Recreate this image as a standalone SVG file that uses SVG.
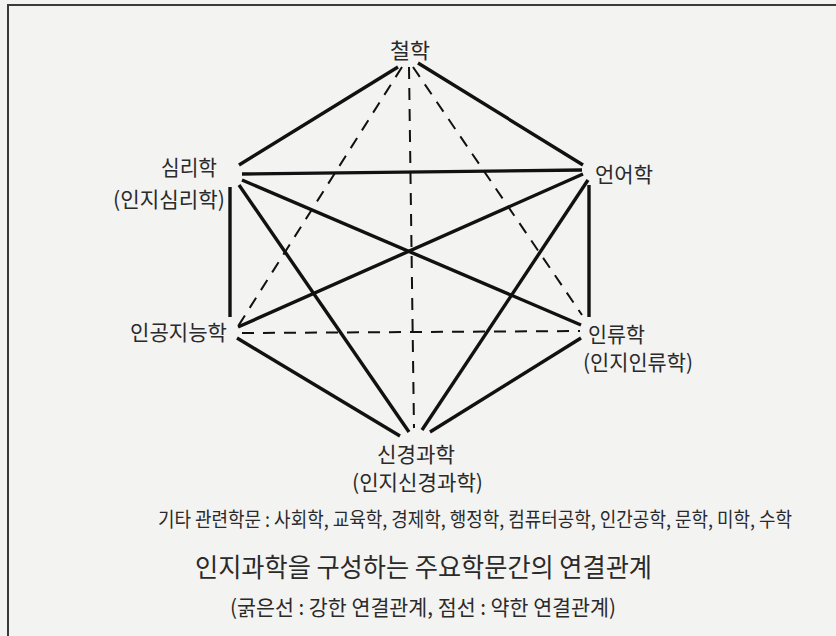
<svg xmlns="http://www.w3.org/2000/svg" width="836" height="636" viewBox="0 0 836 636">
<style>
.bg{fill:#f3f3f2}
.frame{fill:none;stroke:#3a3a3a;stroke-width:2}
.t{font-family:"Noto Sans CJK KR","Noto Sans",sans-serif;fill:#2a2a2a;font-weight:400}
.n{font-size:21px}
.s{stroke:#111;stroke-width:3.4;stroke-linecap:butt;fill:none}
.d{stroke:#111;stroke-width:2;stroke-dasharray:12 9;fill:none}
</style>
<rect class="bg" x="0" y="0" width="836" height="636"/>
<path class="frame" d="M8,636 V5 H836"/>
<g id="connectors">
<line class="s" x1="398" y1="67" x2="239" y2="165"/>
<line class="s" x1="418" y1="63" x2="583" y2="165"/>
<line class="s" x1="242" y1="174" x2="582" y2="170"/>
<line class="s" x1="230" y1="187" x2="230" y2="317"/>
<line class="s" x1="589" y1="185" x2="589" y2="317"/>
<line class="s" x1="242" y1="180" x2="581" y2="325"/>
<line class="s" x1="239" y1="185" x2="409" y2="432"/>
<line class="s" x1="238" y1="327" x2="583" y2="174"/>
<line class="s" x1="237" y1="338" x2="400" y2="436"/>
<line class="s" x1="588" y1="180" x2="422" y2="430"/>
<line class="s" x1="581" y1="338" x2="430" y2="432"/>
<line class="d" x1="402" y1="67" x2="237" y2="328"/>
<line class="d" x1="409" y1="67" x2="414" y2="428"/>
<line class="d" x1="413" y1="67" x2="582" y2="315"/>
<line class="d" x1="242" y1="333" x2="580" y2="331"/>
</g>
<g id="philosophy"><text class="t n" x="390" y="58" textLength="40" lengthAdjust="spacingAndGlyphs">철학</text></g>
<g id="psychology">
<text class="t n" x="161" y="175" textLength="56" lengthAdjust="spacingAndGlyphs">심리학</text>
<text class="t n" x="113" y="207" textLength="112" lengthAdjust="spacingAndGlyphs">(인지심리학)</text>
</g>
<g id="linguistics"><text class="t n" x="595" y="182" textLength="58" lengthAdjust="spacingAndGlyphs">언어학</text></g>
<g id="ai"><text class="t n" x="130" y="340" textLength="97" lengthAdjust="spacingAndGlyphs">인공지능학</text></g>
<g id="anthropology">
<text class="t n" x="588" y="342" textLength="57" lengthAdjust="spacingAndGlyphs">인류학</text>
<text class="t n" x="583" y="370" textLength="110" lengthAdjust="spacingAndGlyphs">(인지인류학)</text>
</g>
<g id="neuroscience">
<text class="t n" x="377" y="462" textLength="78" lengthAdjust="spacingAndGlyphs">신경과학</text>
<text class="t n" x="352" y="490" textLength="131" lengthAdjust="spacingAndGlyphs">(인지신경과학)</text>
</g>
<g id="captions">
<text class="t" x="158" y="527" font-size="20" textLength="634" lengthAdjust="spacingAndGlyphs">기타 관련학문 : 사회학, 교육학, 경제학, 행정학, 컴퓨터공학, 인간공학, 문학, 미학, 수학</text>
<text class="t" x="195" y="577" font-size="26" textLength="457" lengthAdjust="spacingAndGlyphs">인지과학을 구성하는 주요학문간의 연결관계</text>
<text class="t" x="230" y="615" font-size="21" textLength="386" lengthAdjust="spacingAndGlyphs">(굵은선 : 강한 연결관계, 점선 : 약한 연결관계)</text>
</g>
</svg>
